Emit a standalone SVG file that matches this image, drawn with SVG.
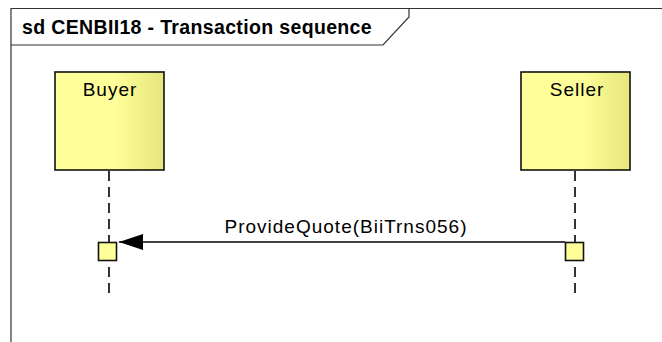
<svg xmlns="http://www.w3.org/2000/svg" width="662" height="342" viewBox="0 0 662 342">
  <defs>
    <linearGradient id="lifeFill" x1="0" y1="0" x2="1" y2="0">
      <stop offset="0" stop-color="#ffff99"/>
      <stop offset="0.55" stop-color="#ffff99"/>
      <stop offset="1" stop-color="#e6e67d"/>
    </linearGradient>
    <marker id="arrow" markerWidth="24" markerHeight="16" refX="24" refY="8" orient="auto" markerUnits="userSpaceOnUse">
      <path d="M0,0 L24,8 L0,16 Z" fill="#000"/>
    </marker>
    <style>
      .frame { fill: none; stroke: #333; stroke-width: 1.2; }
      .title { font-family: "Liberation Sans", Arial, sans-serif; font-weight: bold; font-size: 19.5px; letter-spacing: 0.35px; fill: #000; }
      .head { fill: url(#lifeFill); stroke: #111; stroke-width: 1.6; }
      .label { font-family: "Liberation Sans", Arial, sans-serif; font-size: 19px; letter-spacing: 1px; fill: #000; }
      .lifeline { stroke: #000; stroke-width: 1.6; stroke-dasharray: 10 6; fill: none; }
      .act { fill: #ffff99; stroke: #111; stroke-width: 1.6; }
      .msg { stroke: #000; stroke-width: 1.6; fill: none; }
    </style>
  </defs>
  <rect width="662" height="342" fill="#fff"/>

  <g id="frame">
    <path class="frame" d="M11,345 L11,8.5 L665,8.5"/>
    <path class="frame" d="M11,45 L383,45 L409,17 L409,8.5"/>
    <text class="title" x="22" y="34">sd CENBII18 - Transaction sequence</text>
  </g>

  <g id="buyer">
    <rect class="head" x="55" y="72" width="109" height="98"/>
    <text class="label" x="110" y="96" text-anchor="middle">Buyer</text>
    <line class="lifeline" x1="109" y1="171" x2="109" y2="296"/>
    <rect class="act" x="98.5" y="242.5" width="18" height="18"/>
  </g>

  <g id="seller">
    <rect class="head" x="521" y="72" width="109" height="98"/>
    <text class="label" x="577" y="96" text-anchor="middle">Seller</text>
    <line class="lifeline" x1="575" y1="171" x2="575" y2="296"/>
    <rect class="act" x="565.5" y="242.5" width="18" height="18"/>
  </g>

  <g id="connectors">
    <line class="msg" x1="565" y1="242" x2="119" y2="242" marker-end="url(#arrow)"/>
    <text class="label" x="346" y="233" text-anchor="middle">ProvideQuote(BiiTrns056)</text>
  </g>
</svg>
